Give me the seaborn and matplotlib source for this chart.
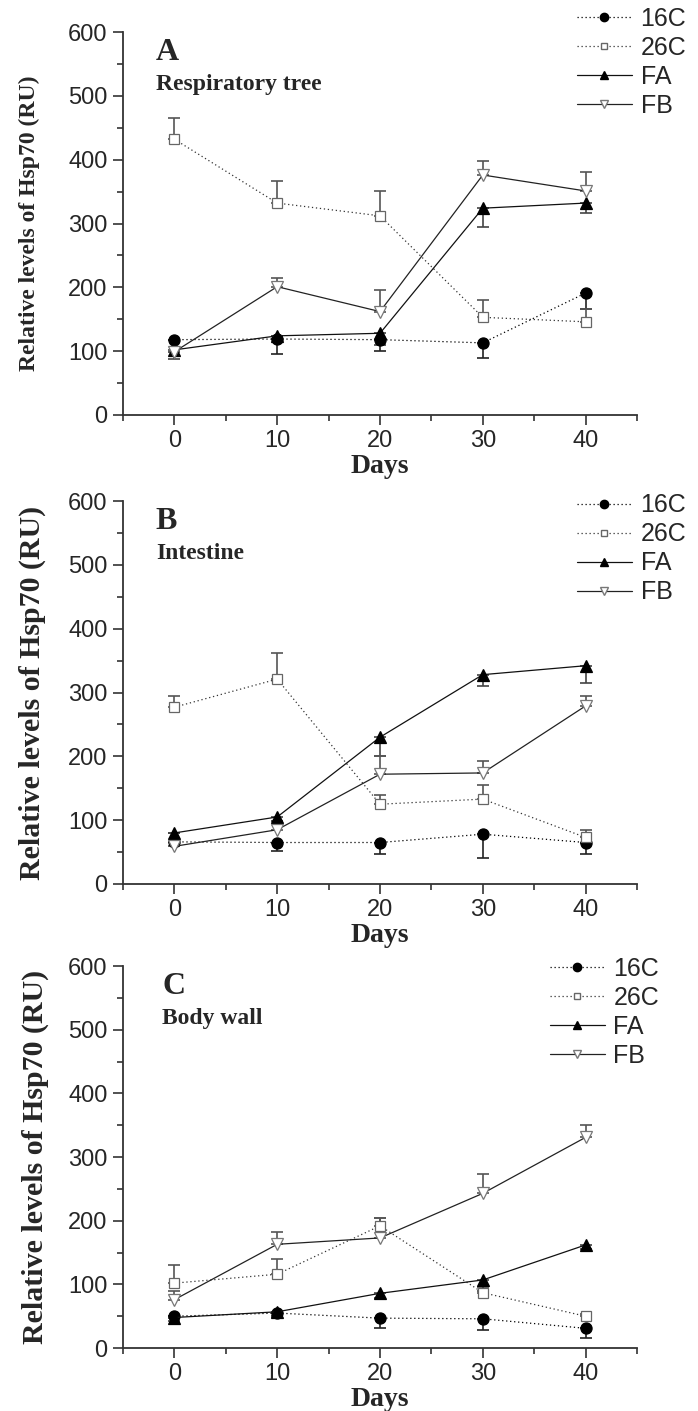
import seaborn as sns
import matplotlib.pyplot as plt
from matplotlib.lines import Line2D
from matplotlib.ticker import MultipleLocator

days = [0, 10, 20, 30, 40]
series_names = ["16C", "26C", "FA", "FB"]

# A - respiratory tree
a_16c = [118, 119, 118, 113, 191]
a_16c_lo = [0, 23, 18, 24, 25]
a_26c = [432, 332, 312, 153, 146]
a_26c_hi = [34, 34, 39, 27, 20]
a_fa = [102, 124, 128, 324, 332]
a_fa_lo = [15, 0, 18, 30, 16]
a_fb = [99, 201, 162, 376, 351]
a_fb_hi = [0, 13, 34, 22, 29]

# B - intestine
b_16c = [66, 65, 65, 78, 65]
b_16c_lo = [0, 13, 18, 38, 18]
b_26c = [277, 321, 125, 133, 73]
b_26c_hi = [17, 41, 15, 22, 11]
b_fa = [80, 105, 230, 328, 342]
b_fa_lo = [0, 7, 30, 18, 27]
b_fb = [59, 85, 172, 174, 279]
b_fb_hi = [0, 13, 28, 19, 16]

# C - body wall
c_16c = [50, 55, 47, 46, 31]
c_16c_lo = [0, 4, 15, 17, 15]
c_26c = [102, 116, 192, 87, 50]
c_26c_hi = [28, 24, 13, 9, 3]
c_fa = [48, 57, 86, 107, 162]
c_fa_lo = [6, 8, 7, 18, 6]
c_fb = [76, 163, 173, 243, 331]
c_fb_hi = [14, 20, 31, 30, 20]

panel_letters = ["A", "B", "C"]
panel_titles = ["Respiratory tree", "Intestine", "Body wall"]

sns.set_style("ticks")
plt.rcParams["font.family"] = ["Liberation Sans Narrow", "Liberation Sans", "DejaVu Sans"]
SERIF = ["Liberation Serif", "DejaVu Serif"]

# style per series: marker, face, edge, line color, linestyle, marker size, errorbar color
STYLES = {
    "16C": dict(marker="o", mfc="black", mec="black", color="black", ls=(0, (1, 2.2)), ms=8, ecol="#222222"),
    "26C": dict(marker="s", mfc="white", mec="#666666", color="#333333", ls=(0, (1, 2.2)), ms=6.5, ecol="#555555"),
    "FA": dict(marker="^", mfc="black", mec="black", color="#111111", ls="-", ms=8.5, ecol="#444444"),
    "FB": dict(marker="v", mfc="white", mec="#777777", color="#222222", ls="-", ms=8.5, ecol="#555555"),
}


def draw_panel(ax, vals, lo, hi, letter, title, ylab_size, ylab_pad, text_x):
    for name in series_names:
        st = STYLES[name]
        sns.lineplot(x=days, y=vals[name], ax=ax, color=st["color"], linestyle=st["ls"],
                     linewidth=0.9, marker=st["marker"], markersize=st["ms"],
                     markerfacecolor=st["mfc"], markeredgecolor=st["mec"],
                     markeredgewidth=0.9, errorbar=None, zorder=3)
        ax.errorbar(days, vals[name], yerr=[lo[name], hi[name]], fmt="none",
                    ecolor=st["ecol"], elinewidth=1.2, capsize=4, capthick=1.2, zorder=2)

    ax.set_xlim(-5, 45)
    ax.set_ylim(0, 600)
    ax.xaxis.set_major_locator(MultipleLocator(10))
    ax.xaxis.set_minor_locator(MultipleLocator(5))
    ax.yaxis.set_major_locator(MultipleLocator(100))
    ax.yaxis.set_minor_locator(MultipleLocator(50))
    ax.tick_params(which="major", length=7, width=1.2, color="#333333",
                   labelsize=17, pad=4, direction="out")
    ax.tick_params(which="minor", length=4, width=1.2, color="#333333", direction="out")
    sns.despine(ax=ax)
    for s in ["left", "bottom"]:
        ax.spines[s].set_linewidth(1.3)
        ax.spines[s].set_color("#333333")

    ax.set_xlabel("Days", family=SERIF, fontweight="bold", fontsize=20, labelpad=1)
    ax.set_ylabel("Relative levels of Hsp70 (RU)", family=SERIF, fontweight="bold",
                  fontsize=ylab_size, labelpad=ylab_pad)
    ax.text(text_x, 0.985, letter, transform=ax.transAxes, family=SERIF,
            fontweight="bold", fontsize=23, va="top", ha="left")
    ax.text(text_x, 0.89, title, transform=ax.transAxes, family=SERIF,
            fontweight="bold", fontsize=17, va="top", ha="left")

    handles = []
    for name in series_names:
        st = STYLES[name]
        handles.append(Line2D([], [], color=st["color"], linestyle=st["ls"], linewidth=0.9,
                              marker=st["marker"], markersize=st["ms"] * 0.75,
                              markerfacecolor=st["mfc"], markeredgecolor=st["mec"]))
    return handles


fig = plt.figure(figsize=(6.98, 14.11), dpi=100)
rects = [
    [0.1762, 0.7059, 0.7364, 0.2714],
    [0.1762, 0.3735, 0.7364, 0.2714],
    [0.1762, 0.0446, 0.7364, 0.2707],
]
all_vals = [
    ({"16C": a_16c, "26C": a_26c, "FA": a_fa, "FB": a_fb},
     {"16C": a_16c_lo, "26C": [0] * 5, "FA": a_fa_lo, "FB": [0] * 5},
     {"16C": [0] * 5, "26C": a_26c_hi, "FA": [0] * 5, "FB": a_fb_hi}),
    ({"16C": b_16c, "26C": b_26c, "FA": b_fa, "FB": b_fb},
     {"16C": b_16c_lo, "26C": [0] * 5, "FA": b_fa_lo, "FB": [0] * 5},
     {"16C": [0] * 5, "26C": b_26c_hi, "FA": [0] * 5, "FB": b_fb_hi}),
    ({"16C": c_16c, "26C": c_26c, "FA": c_fa, "FB": c_fb},
     {"16C": c_16c_lo, "26C": [0] * 5, "FA": c_fa_lo, "FB": [0] * 5},
     {"16C": [0] * 5, "26C": c_26c_hi, "FA": [0] * 5, "FB": c_fb_hi}),
]
ylab_sizes = [17, 21.5, 21.5]
ylab_pads = [20, 16, 14]
text_xs = [0.064, 0.064, 0.076]
leg_pos = [(0.883, 1.065), (0.883, 1.02), (0.83, 1.025)]

for i in range(3):
    ax = fig.add_axes(rects[i])
    vals, lo, hi = all_vals[i]
    handles = draw_panel(ax, vals, lo, hi, panel_letters[i], panel_titles[i],
                         ylab_sizes[i], ylab_pads[i], text_xs[i])
    ax.legend(handles, series_names, loc="upper left", bbox_to_anchor=leg_pos[i],
              frameon=False, fontsize=18, handlelength=2.2, handletextpad=0.35,
              labelspacing=0.2, borderpad=0, borderaxespad=0)

fig.savefig("out.png", dpi=100)
plt.close(fig)
